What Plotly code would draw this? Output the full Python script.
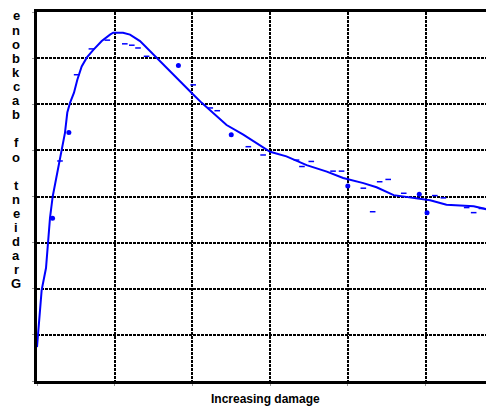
import plotly.graph_objects as go

# Backbone curve (fitted)
curve_x = [0.0, 0.06, 0.116, 0.145, 0.167, 0.202, 0.245, 0.287, 0.36, 0.39, 0.425, 0.476,
           0.519, 0.575, 0.64, 0.725, 0.833, 0.94, 0.98, 1.107, 1.197, 1.326, 1.39, 1.497,
           1.605, 1.734, 1.883, 2.01, 2.12, 2.27, 2.44, 2.655, 2.83, 3.0, 3.21, 3.47, 3.73,
           3.94, 4.2, 4.37, 4.59, 4.84, 5.06, 5.27, 5.62, 5.87]
curve_y = [0.735, 1.97, 2.45, 3.02, 3.53, 4.0, 4.36, 4.79, 5.38, 5.82, 6.03, 6.25,
           6.53, 6.82, 7.01, 7.18, 7.37, 7.51, 7.55, 7.55, 7.51, 7.37, 7.26, 7.08,
           6.90, 6.68, 6.42, 6.21, 6.03, 5.81, 5.55, 5.34, 5.16, 4.97, 4.87, 4.68, 4.54,
           4.40, 4.29, 4.2, 4.03, 3.97, 3.92, 3.82, 3.79, 3.69]

# Small scattered measurement marks
small_x = [0.51, 0.296, 0.70, 0.905, 1.13, 1.22, 1.30, 1.41, 2.01, 2.23, 2.32, 2.72,
           2.91, 3.34, 3.41, 3.53, 3.81, 3.92, 4.2, 4.41, 4.52, 4.32, 4.72, 5.12, 5.23,
           5.53, 5.62, 5.72]
small_y = [6.64, 4.77, 7.2, 7.39, 7.31, 7.28, 7.22, 7.04, 6.42, 5.92, 5.86, 5.08,
           4.9, 4.79, 4.65, 4.76, 4.55, 4.55, 4.18, 4.32, 4.37, 3.67, 4.07, 4.02, 3.97,
           3.76, 3.65, 3.74]

# Larger dots
big_x = [0.41, 1.82, 2.5, 0.2, 4.0, 4.92, 5.02]
big_y = [5.39, 6.84, 5.34, 3.53, 4.23, 4.05, 3.65]

x_title = "Increasing damage"
y_title = "Gradient of backbone"

# page has an 8px body margin; compensate so the chart sits where the reference has it
W, H = 486, 399
ML, MT, MB = 29, 4, 26
PLOT_H = H - MT - MB

fig = go.Figure()
fig.add_trace(go.Scatter(x=curve_x, y=curve_y, mode="lines",
                         line=dict(color="#0000FF", width=2), showlegend=False))
fig.add_trace(go.Scatter(x=small_x, y=small_y, mode="markers",
                         marker=dict(symbol="line-ew", size=4, line=dict(color="#0000FF", width=1.5)),
                         showlegend=False))
fig.add_trace(go.Scatter(x=big_x, y=big_y, mode="markers",
                         marker=dict(symbol="circle", size=5, color="#0000FF"),
                         showlegend=False))

grid = dict(showgrid=True, gridcolor="black", gridwidth=2, griddash="3px,1px",
            showline=True, linecolor="black", linewidth=3, zeroline=False,
            ticks="outside", ticklen=2, tickwidth=1, tickcolor="#999999",
            showticklabels=False, dtick=1, tick0=0)

fig.update_xaxes(range=[0, (W - ML) / 77.7], mirror=True, **grid)
fig.update_yaxes(range=[0, 8], **grid)

font = dict(family="Liberation Sans", size=13, color="black", weight="bold")
letters = list(y_title)[::-1]
for i, c in enumerate(letters):
    if c == " ":
        continue
    fig_y = 8 + 14.1 * i
    fig.add_annotation(text=c, x=0, xref="paper", xanchor="center", xshift=-21,
                       y=(H - MB - fig_y) / PLOT_H, yref="paper", yanchor="middle",
                       showarrow=False, font=font)
fig.add_annotation(text=x_title, x=0.5, xref="paper", xanchor="center",
                   y=0, yref="paper", yanchor="middle", yshift=-18,
                   showarrow=False, font=dict(family="Liberation Sans", size=12,
                                              color="black", weight="bold"))

fig.update_layout(width=W, height=H, margin=dict(l=ML, r=0, t=MT, b=MB),
                  paper_bgcolor="white", plot_bgcolor="white")

fig.write_html("out.html")
